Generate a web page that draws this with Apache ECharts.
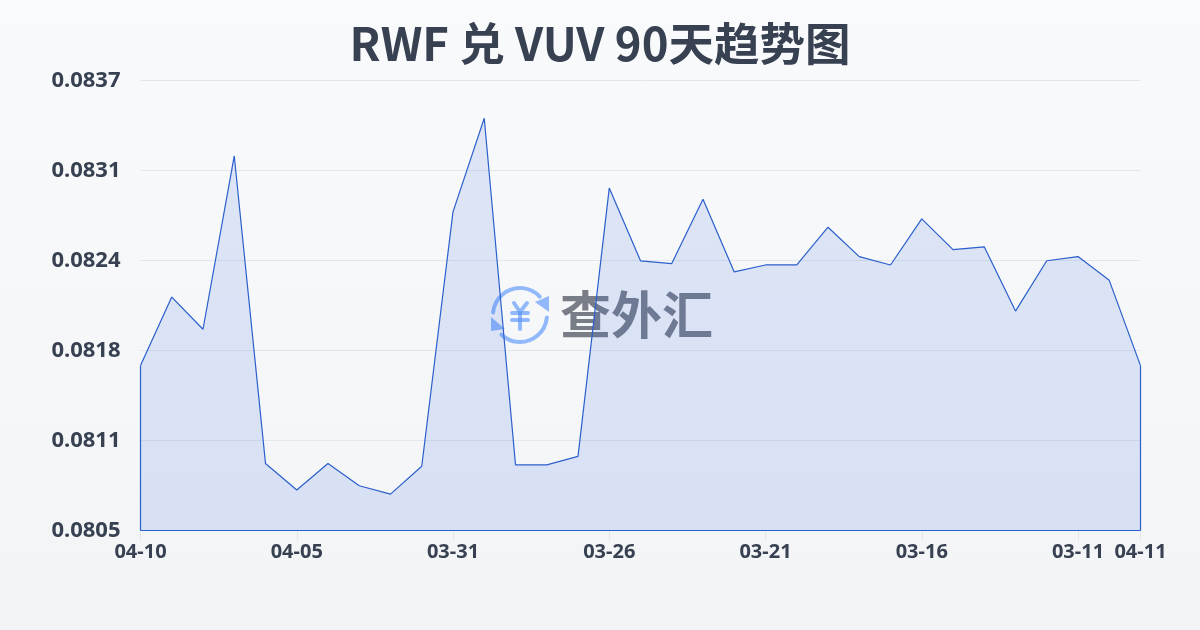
<!DOCTYPE html>
<html><head><meta charset="utf-8">
<style>html,body{margin:0;padding:0;background:#f5f7fa}#c{width:1200px;height:630px}</style>
<script src="https://cdn.jsdelivr.net/npm/echarts@6/dist/echarts.min.js"></script>
</head><body><div id="c"></div>
<script>
const titleText = 'RWF 兑 VUV 90天趋势图';
const watermarkText = '查外汇';
const dates = ['04-10','04-09','04-08','04-07','04-06','04-05','04-04','04-03','04-02','04-01','03-31','03-30','03-29','03-28','03-27','03-26','03-25','03-24','03-23','03-22','03-21','03-20','03-19','03-18','03-17','03-16','03-15','03-14','03-13','03-12','03-11','03-10','04-11'];
const rates = [0.08168,0.08217,0.08194,0.08318,0.08098,0.08079,0.08098,0.08082,0.08076,0.08096,0.08278,0.08345,0.08097,0.08097,0.08103,0.08295,0.08243,0.08241,0.08287,0.08235,0.08240,0.08240,0.08267,0.08246,0.08240,0.08273,0.08251,0.08253,0.08207,0.08243,0.08246,0.08229,0.08168];
const axisMin = 0.0805, axisStep = 0.000644, axisMax = 0.08372;
const ink = '#374151', blue = '#2b5fcc', iconBlue = 'rgba(90,150,250,0.65)';
const sans = '"Noto Sans", "Noto Sans CJK SC", sans-serif';
const showTick = i => i % 5 === 0 || i === dates.length - 1;
const last = dates.length - 1;
const iconStroke = {stroke: iconBlue, lineWidth: 4, lineCap: 'round', lineJoin: 'round', fill: null};
const chart = echarts.init(document.getElementById('c'));
chart.setOption({
  animation: false,
  backgroundColor: {type:'linear',x:0,y:0,x2:0,y2:1,colorStops:[{offset:0,color:'#f9fafb'},{offset:1,color:'#f2f4f6'}]},
  title: {text: titleText, left: 'center', top: 16, textStyle: {fontFamily: '"Noto Sans CJK SC", sans-serif', fontSize: 45.5, fontWeight: 'bold', color: ink}},
  grid: {left: 140.5, right: 59.5, top: 80.5, bottom: 99.5},
  xAxis: {type: 'category', data: dates, boundaryGap: false,
    axisLine: {show: false},
    axisTick: {show: true, interval: showTick, length: 10, lineStyle: {color: '#e2e5ea'}},
    axisLabel: {interval: showTick, hideOverlap: false, color: ink, fontFamily: sans, fontWeight: 'bold', fontSize: 20, margin: 12},
    splitLine: {show: false}},
  yAxis: {type: 'value', min: axisMin, max: axisMax, interval: axisStep,
    axisLine: {show: false}, axisTick: {show: false},
    axisLabel: {color: ink, fontFamily: sans, fontWeight: 'bold', fontSize: 22, margin: 20, padding: [0,0,2,0], formatter: v => v.toFixed(4)},
    splitLine: {show: true, lineStyle: {color: '#e3e6ec', width: 1}}},
  graphic: [
    {type:'group', z:100, silent:true, children:[
      {type:'arc', shape:{cx:520,cy:315,r:27,startAngle:Math.PI*1.03,endAngle:Math.PI*1.76}, style:iconStroke},
      {type:'arc', shape:{cx:520,cy:315,r:27,startAngle:Math.PI*0.03,endAngle:Math.PI*0.74}, style:iconStroke},
      {type:'polygon', shape:{points:[[549,296],[549,312],[535,302]]}, style:{fill:iconBlue}},
      {type:'polygon', shape:{points:[[491,317],[491,331],[505,329]]}, style:{fill:iconBlue}},
      {type:'polyline', shape:{points:[[514,303],[520,312],[527,303]]}, style:iconStroke},
      {type:'line', shape:{x1:512,y1:313,x2:528,y2:313}, style:iconStroke},
      {type:'line', shape:{x1:512,y1:320,x2:528,y2:320}, style:iconStroke},
      {type:'line', shape:{x1:520,y1:314,x2:520,y2:329}, style:iconStroke},
      {type:'text', style:{x:636.5,y:315,text:watermarkText,align:'center',verticalAlign:'middle',fill:'rgba(72,78,92,0.72)',font:'bold 51px "Noto Sans CJK SC", sans-serif'}}
    ]}
  ],
  series: [{
    type: 'line', data: rates, symbol: 'none', smooth: false, z: 3,
    lineStyle: {color: blue, width: 1.2},
    areaStyle: {color: 'rgba(48,98,222,0.19)', origin: 'start'},
    markLine: {silent: true, symbol: 'none', label: {show: false},
      lineStyle: {color: blue, width: 1.2, type: 'solid'},
      data: [
        [{coord:[0, axisMin]},{coord:[0, rates[0]]}],
        [{coord:[last, axisMin]},{coord:[last, rates[last]]}],
        [{coord:[0, axisMin]},{coord:[last, axisMin]}]
      ]}
  }]
});
</script></body></html>
